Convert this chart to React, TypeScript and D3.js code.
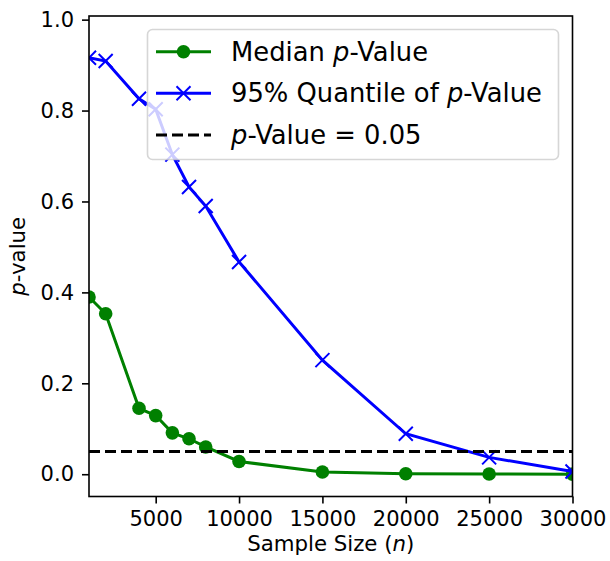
import React from "react";
import * as d3 from "d3";

const sampleSizes = [1000, 2000, 4000, 5000, 6000, 7000, 8000, 10000, 15000, 20000, 25000, 30000];
const medianP = [0.39, 0.353, 0.145, 0.129, 0.091, 0.078, 0.06, 0.028, 0.005, 0.001, 0.0005, 0.0002];
const quantileP = [0.916, 0.909, 0.826, 0.803, 0.703, 0.632, 0.59, 0.467, 0.251, 0.089, 0.037, 0.006];
const threshold = 0.05;
const xTicks = [5000, 10000, 15000, 20000, 25000, 30000];
const yTicks = [0, 0.2, 0.4, 0.6, 0.8, 1.0];

const W = 610;
const H = 561;
const plot = { left: 89, right: 572.5, top: 16, bottom: 496.5 };
const font = "DejaVu Sans, sans-serif";

class PValueChart extends React.Component<{}> {
  svg: SVGSVGElement | null = null;

  componentDidMount() {
    this.drawChart();
  }

  shouldComponentUpdate() {
    return false;
  }

  drawChart() {
    const svg = d3.select(this.svg);
    svg.selectAll("*").remove();

    const x = d3.scaleLinear().domain([1000, 30000]).range([plot.left, plot.right]);
    const y = d3.scaleLinear().domain([-0.049, 1.008]).range([plot.bottom, plot.top]);

    svg.append("defs").append("clipPath")
      .attr("id", "plot-clip")
      .append("rect")
      .attr("x", plot.left)
      .attr("y", plot.top)
      .attr("width", plot.right - plot.left)
      .attr("height", plot.bottom - plot.top);

    const data = sampleSizes.map((n, i) => ({ n, med: medianP[i], q: quantileP[i] }));
    const g = svg.append("g").attr("clip-path", "url(#plot-clip)");

    // Median series (green, circles)
    const lineMed = d3.line<any>().x((d) => x(d.n)).y((d) => y(d.med));
    g.append("path")
      .datum(data)
      .attr("d", lineMed)
      .attr("fill", "none")
      .attr("stroke", "#008000")
      .attr("stroke-width", 3);
    g.selectAll(".dot-med")
      .data(data)
      .enter().append("circle")
      .attr("cx", (d) => x(d.n))
      .attr("cy", (d) => y(d.med))
      .attr("r", 6.8)
      .attr("fill", "#008000");

    // 95% quantile series (blue, x markers)
    const lineQ = d3.line<any>().x((d) => x(d.n)).y((d) => y(d.q));
    g.append("path")
      .datum(data)
      .attr("d", lineQ)
      .attr("fill", "none")
      .attr("stroke", "#0000ff")
      .attr("stroke-width", 3);
    const s = 7;
    g.selectAll(".mark-q")
      .data(data)
      .enter().append("path")
      .attr("d", (d) => {
        const cx = x(d.n), cy = y(d.q);
        return `M${cx - s},${cy - s}L${cx + s},${cy + s}M${cx - s},${cy + s}L${cx + s},${cy - s}`;
      })
      .attr("stroke", "#0000ff")
      .attr("stroke-width", 2);

    // threshold line
    g.append("line")
      .attr("x1", plot.left)
      .attr("x2", plot.right)
      .attr("y1", y(threshold))
      .attr("y2", y(threshold))
      .attr("stroke", "#000")
      .attr("stroke-width", 3)
      .attr("stroke-dasharray", "11 5");

    // axes
    const xAxis = d3.axisBottom(x).tickValues(xTicks).tickSize(7).tickPadding(8).tickFormat(d3.format("d"));
    const xg = svg.append("g")
      .attr("transform", "translate(0," + plot.bottom + ")")
      .call(xAxis);
    xg.select(".domain").remove();
    xg.selectAll("line").attr("stroke-width", 1.6);
    xg.selectAll("text").attr("font-size", 21).attr("font-family", font).attr("fill", "#000");

    const yAxis = d3.axisLeft(y).tickValues(yTicks).tickSize(7).tickPadding(8).tickFormat(d3.format(".1f"));
    const yg = svg.append("g")
      .attr("transform", "translate(" + plot.left + ",0)")
      .call(yAxis);
    yg.select(".domain").remove();
    yg.selectAll("line").attr("stroke-width", 1.6);
    yg.selectAll("text").attr("font-size", 21).attr("font-family", font).attr("fill", "#000");

    // frame
    svg.append("rect")
      .attr("x", plot.left)
      .attr("y", plot.top)
      .attr("width", plot.right - plot.left)
      .attr("height", plot.bottom - plot.top)
      .attr("fill", "none")
      .attr("stroke", "#000")
      .attr("stroke-width", 1.6);

    // axis labels
    const xl = svg.append("text")
      .attr("x", (plot.left + plot.right) / 2)
      .attr("y", 551)
      .attr("text-anchor", "middle")
      .attr("font-family", font)
      .attr("font-size", 21.3);
    xl.append("tspan").text("Sample Size (");
    xl.append("tspan").attr("font-style", "italic").text("n");
    xl.append("tspan").text(")");

    const yl = svg.append("text")
      .attr("transform", "translate(25," + (plot.top + plot.bottom) / 2 + ") rotate(-90)")
      .attr("text-anchor", "middle")
      .attr("font-family", font)
      .attr("font-size", 21.3);
    yl.append("tspan").attr("font-style", "italic").text("p");
    yl.append("tspan").text("-value");

    // legend
    const lg = svg.append("g");
    lg.append("rect")
      .attr("x", 147.5)
      .attr("y", 29.5)
      .attr("width", 411)
      .attr("height", 130)
      .attr("rx", 5)
      .attr("fill", "#fff")
      .attr("fill-opacity", 0.8)
      .attr("stroke", "#cccccc")
      .attr("stroke-opacity", 0.8)
      .attr("stroke-width", 1.6);

    const rows = [
      { y: 51.7, color: "#008000", dash: null, marker: "circle", parts: [["Median ", false], ["p", true], ["-Value", false]] },
      { y: 93.3, color: "#0000ff", dash: null, marker: "x", parts: [["95% Quantile of ", false], ["p", true], ["-Value", false]] },
      { y: 135, color: "#000", dash: "11 5", marker: null, parts: [["p", true], ["-Value = 0.05", false]] },
    ];
    rows.forEach((r) => {
      lg.append("line")
        .attr("x1", 156)
        .attr("x2", 211)
        .attr("y1", r.y)
        .attr("y2", r.y)
        .attr("stroke", r.color)
        .attr("stroke-width", 3)
        .attr("stroke-dasharray", r.dash);
      if (r.marker === "circle") {
        lg.append("circle").attr("cx", 183.5).attr("cy", r.y).attr("r", 6.8).attr("fill", r.color);
      } else if (r.marker === "x") {
        lg.append("path")
          .attr("d", `M${183.5 - s},${r.y - s}L${183.5 + s},${r.y + s}M${183.5 - s},${r.y + s}L${183.5 + s},${r.y - s}`)
          .attr("stroke", r.color)
          .attr("stroke-width", 2);
      }
      const t = lg.append("text")
        .attr("x", 231)
        .attr("y", r.y + 8.8)
        .attr("font-family", font)
        .attr("font-size", 25.8);
      r.parts.forEach((p: any) => {
        t.append("tspan").attr("font-style", p[1] ? "italic" : "normal").text(p[0]);
      });
    });
  }

  render() {
    return (
      <svg
        width={W}
        height={H}
        style={{ position: "absolute", left: 0, top: 0, background: "#fff" }}
        ref={(elem) => { this.svg = elem; }}
      ></svg>
    );
  }
}

export default function App() {
  return <PValueChart />;
}
